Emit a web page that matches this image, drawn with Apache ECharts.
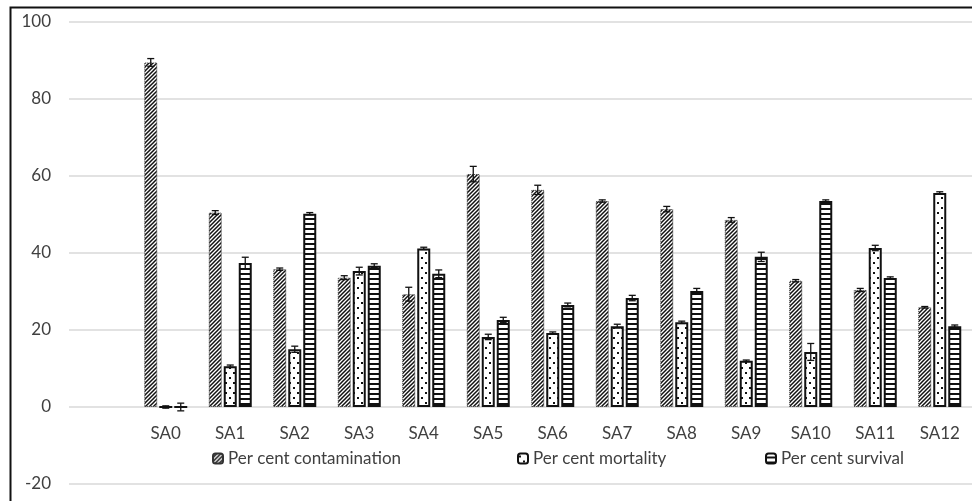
<!DOCTYPE html>
<html>
<head>
<meta charset="utf-8">
<script src="https://cdn.jsdelivr.net/npm/echarts@6/dist/echarts.min.js"></script>
<style>
html,body{margin:0;padding:0;background:#fff;}
#chart{width:972px;height:501px;}
</style>
</head>
<body>
<div id="chart"></div>
<script>
// ---- data ----
var categories = ['', 'SA0', 'SA1', 'SA2', 'SA3', 'SA4', 'SA5', 'SA6', 'SA7', 'SA8', 'SA9', 'SA10', 'SA11', 'SA12'];
var seriesNames = ['Per cent contamination', 'Per cent mortality', 'Per cent survival'];
var contamination = [null, 89.5, 50.5, 35.8, 33.6, 29.3, 60.5, 56.4, 53.5, 51.4, 48.6, 32.8, 30.4, 25.9];
var contaminationErr = [null, 1, 0.5, 0.3, 0.5, 1.8, 2, 1.2, 0.3, 0.7, 0.6, 0.3, 0.4, 0.2];
var mortality = [null, 0, 10.6, 15, 35.3, 41.2, 18.2, 19.2, 21, 22, 12, 14.3, 41.3, 55.6];
var mortalityErr = [null, 0.3, 0.3, 0.8, 1, 0.3, 0.7, 0.3, 0.5, 0.3, 0.2, 2.2, 0.7, 0.3];
var survival = [null, 0, 37.4, 50.2, 36.7, 34.6, 22.6, 26.5, 28.3, 30.1, 39, 53.5, 33.5, 21];
var survivalErr = [null, 1, 1.5, 0.3, 0.5, 1, 0.7, 0.5, 0.7, 0.7, 1.2, 0.3, 0.3, 0.3];
var yTicks = [-20, 0, 20, 40, 60, 80, 100];

// ---- patterns ----
function patDiag() {
  var c = document.createElement('canvas'); c.width = 4; c.height = 4;
  var g = c.getContext('2d');
  g.fillStyle = '#fff'; g.fillRect(0, 0, 4, 4);
  g.strokeStyle = '#111'; g.lineWidth = 1.5;
  g.beginPath();
  g.moveTo(-1, 5); g.lineTo(5, -1);
  g.moveTo(-1, 1); g.lineTo(1, -1);
  g.moveTo(3, 5); g.lineTo(5, 3);
  g.stroke();
  return c;
}
function patDots() {
  var c = document.createElement('canvas'); c.width = 8; c.height = 10;
  var g = c.getContext('2d');
  g.fillStyle = '#fff'; g.fillRect(0, 0, 8, 10);
  g.fillStyle = '#111';
  g.fillRect(1, 2, 2, 2);
  g.fillRect(5, 7, 2, 2);
  return c;
}
function patHoriz() {
  var c = document.createElement('canvas'); c.width = 4; c.height = 5;
  var g = c.getContext('2d');
  g.fillStyle = '#fff'; g.fillRect(0, 0, 4, 5);
  g.fillStyle = '#111'; g.fillRect(0, 3, 4, 2);
  return c;
}
var fills = [
  {image: patDiag(), repeat: 'repeat'},
  {image: patDots(), repeat: 'repeat'},
  {image: patHoriz(), repeat: 'repeat'}
];
var borders = [
  {borderColor: '#333', borderWidth: 1, borderType: 'dotted'},
  {borderColor: '#111', borderWidth: 2, borderType: 'solid'},
  {borderColor: '#111', borderWidth: 2, borderType: 'solid'}
];

var BAR_W = 13, GAP = 2;
var values = [contamination, mortality, survival];
var errs = [contaminationErr, mortalityErr, survivalErr];

var series = [];
values.forEach(function (vals, i) {
  series.push({
    name: seriesNames[i],
    type: 'bar',
    data: vals,
    barWidth: BAR_W,
    barGap: (GAP / BAR_W * 100) + '%',
    itemStyle: Object.assign({color: fills[i]}, borders[i]),
    z: 2
  });
});
values.forEach(function (vals, i) {
  var data = [];
  vals.forEach(function (v, k) {
    if (v !== null && errs[i][k] !== null) data.push([k, v, errs[i][k]]);
  });
  series.push({
    type: 'custom',
    name: seriesNames[i] + ' err',
    data: data,
    z: 5,
    silent: true,
    encode: {x: 0, y: 1},
    renderItem: (function (idx) {
      return function (params, api) {
        var x = api.value(0), y = api.value(1), e = api.value(2);
        var hi = api.coord([x, y + e]);
        var lo = api.coord([x, y - e]);
        var dx = (idx - 1) * (BAR_W + GAP);
        var cx = hi[0] + dx;
        var st = {stroke: '#111', lineWidth: 1.3};
        return {
          type: 'group',
          children: [
            {type: 'line', shape: {x1: cx, y1: hi[1], x2: cx, y2: lo[1]}, style: st},
            {type: 'line', shape: {x1: cx - 3.5, y1: hi[1], x2: cx + 3.5, y2: hi[1]}, style: st},
            {type: 'line', shape: {x1: cx - 3.5, y1: lo[1], x2: cx + 3.5, y2: lo[1]}, style: st}
          ]
        };
      };
    })(i)
  });
});

var legendLeft = [207, 512, 760];
var legends = seriesNames.map(function (n, i) {
  return {
    data: [n],
    left: legendLeft[i], top: 445,
    itemWidth: 10, itemHeight: 10, itemGap: 5,
    textStyle: {fontSize: 17, color: '#404040', fontFamily: 'Lato'}
  };
});

var chart = echarts.init(document.getElementById('chart'), null, {renderer: 'canvas'});
chart.setOption({
  animation: false,
  backgroundColor: '#fff',
  textStyle: {fontFamily: 'Lato'},
  graphic: [{
    type: 'rect', left: 8, top: 5, z: 100, silent: true,
    shape: {width: 1200, height: 800},
    style: {fill: null, stroke: '#111', lineWidth: 2}
  }],
  legend: legends,
  grid: {left: 69, right: 0, top: 22, bottom: 17, containLabel: false, outerBoundsMode: 'none'},
  xAxis: {
    type: 'category',
    data: categories,
    axisLine: {show: false, onZero: false},
    axisTick: {show: false},
    axisLabel: {fontSize: 17, color: '#404040', inside: true, margin: 42, fontFamily: 'Lato', interval: 0}
  },
  yAxis: {
    type: 'value',
    min: yTicks[0], max: yTicks[yTicks.length - 1], interval: 20,
    axisLine: {show: false},
    axisTick: {show: false},
    splitLine: {lineStyle: {color: '#d9d9d9', width: 1.5}},
    axisLabel: {fontSize: 17, color: '#404040', margin: 18, fontFamily: 'Lato'}
  },
  series: series
});
</script>
</body>
</html>
